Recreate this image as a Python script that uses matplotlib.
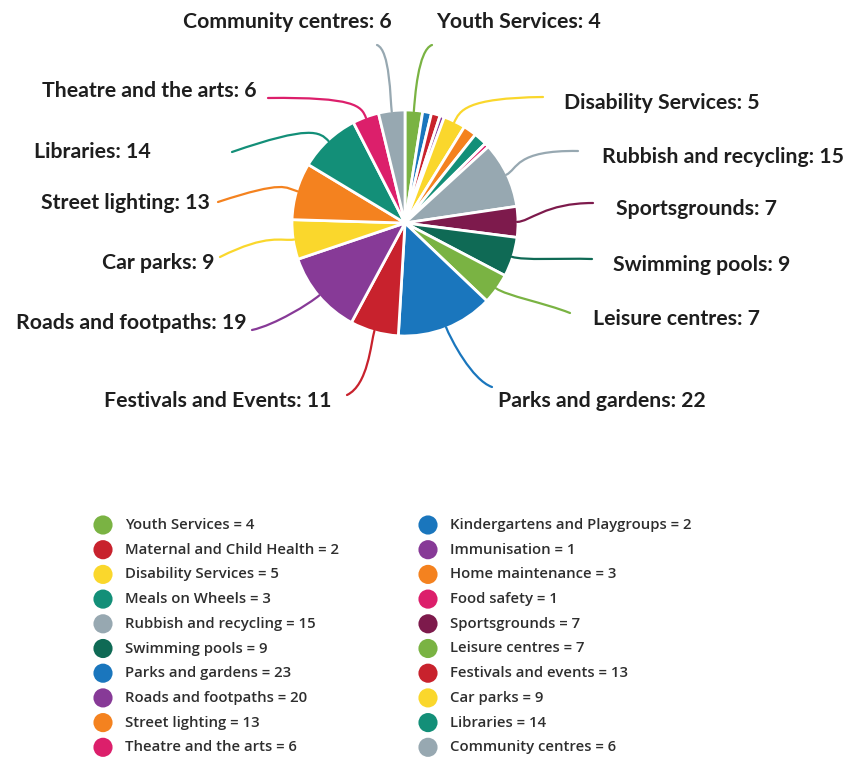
import matplotlib
matplotlib.use('Agg')
import matplotlib.pyplot as plt
import numpy as np
from matplotlib.path import Path
from matplotlib.patches import PathPatch

# slices clockwise from 12 o'clock
slice_names = ['Youth Services', 'Kindergartens and Playgroups', 'Maternal and Child Health',
               'Immunisation', 'Disability Services', 'Home maintenance', 'Meals on Wheels',
               'Food safety', 'Rubbish and recycling', 'Sportsgrounds', 'Swimming pools',
               'Leisure centres', 'Parks and gardens', 'Festivals and Events',
               'Roads and footpaths', 'Car parks', 'Street lighting', 'Libraries',
               'Theatre and the arts', 'Community centres']
slice_values = [4, 2, 2, 1, 5, 3, 3, 1, 15, 7, 9, 7, 22, 11, 19, 9, 13, 14, 6, 6]

GREEN = '#7ab343'
RED = '#c8222d'
YELLOW = '#fad72c'
TEAL = '#138f78'
GREY = '#97a8b1'
DKTEAL = '#0f6a55'
BLUE = '#1a76bd'
PURPLE = '#873a97'
ORANGE = '#f4821f'
PINK = '#dc1f6b'
MAROON = '#7d1a4c'

slice_colors = [GREEN, BLUE, RED, PURPLE, YELLOW, ORANGE, TEAL, PINK, GREY, MAROON,
                DKTEAL, GREEN, BLUE, RED, PURPLE, YELLOW, ORANGE, TEAL, PINK, GREY]

# legend (two columns)
legend_left = ['Youth Services', 'Maternal and Child Health', 'Disability Services',
               'Meals on Wheels', 'Rubbish and recycling', 'Swimming pools',
               'Parks and gardens', 'Roads and footpaths', 'Street lighting',
               'Theatre and the arts']
legend_left_values = [4, 2, 5, 3, 15, 9, 23, 20, 13, 6]
legend_left_colors = [GREEN, RED, YELLOW, TEAL, GREY, DKTEAL, BLUE, PURPLE, ORANGE, PINK]
legend_right = ['Kindergartens and Playgroups', 'Immunisation', 'Home maintenance',
                'Food safety', 'Sportsgrounds', 'Leisure centres', 'Festivals and events',
                'Car parks', 'Libraries', 'Community centres']
legend_right_values = [2, 1, 3, 1, 7, 7, 13, 9, 14, 6]
legend_right_colors = [BLUE, PURPLE, ORANGE, PINK, MAROON, GREEN, RED, YELLOW, TEAL, GREY]

W, H = 848, 760
CX, CY, R = 405, 223, 113


def Y(y):
    return H - y


# label layout: text x, text y, alignment, control point, line end (pixels)
label_layout = {
    'Youth Services': (436, 22, 'left', (418, 50), (432, 45)),
    'Disability Services': (564, 103, 'left', (465, 98), (543, 97)),
    'Rubbish and recycling': (602, 157, 'left', (515, 150), (578, 151)),
    'Sportsgrounds': (616, 209, 'left', (545, 203), (593, 203)),
    'Swimming pools': (613, 265, 'left', (560, 258), (592, 259)),
    'Leisure centres': (593, 319, 'left', (545, 303), (570, 313)),
    'Parks and gardens': (498, 401, 'left', (472, 380), (492, 387)),
    'Festivals and Events': (332, 401, 'right', (368, 385), (347, 395)),
    'Roads and footpaths': (247, 323, 'right', (275, 325), (252, 330)),
    'Car parks': (215, 263, 'right', (268, 233), (220, 257)),
    'Street lighting': (210, 203, 'right', (285, 180), (218, 202)),
    'Libraries': (151, 152, 'right', (310, 125), (232, 152)),
    'Theatre and the arts': (257, 91, 'right', (355, 97), (268, 98)),
    'Community centres': (392, 22, 'right', (390, 50), (377, 45)),
}

fig = plt.figure(figsize=(W / 100, H / 100), dpi=100)
ax = fig.add_axes([0, 0, 1, 1])

wedges, _ = ax.pie(slice_values, colors=slice_colors, startangle=90, counterclock=False,
                   center=(CX, Y(CY)), radius=R,
                   wedgeprops=dict(edgecolor='white', linewidth=2))

for w, name, val, col in zip(wedges, slice_names, slice_values, slice_colors):
    if name not in label_layout:
        continue
    tx, ty, ha, ctrl, end = label_layout[name]
    mid = np.deg2rad((w.theta1 + w.theta2) / 2)
    d = np.array([np.cos(mid), np.sin(mid)])
    p0 = np.array([CX, Y(CY)]) + d * (R - 1)
    p1 = np.array([CX, Y(CY)]) + d * (R + 12)
    p2 = (ctrl[0], Y(ctrl[1]))
    p3 = (end[0], Y(end[1]))
    path = Path([p0, p1, p2, p3], [Path.MOVETO, Path.CURVE4, Path.CURVE4, Path.CURVE4])
    ax.add_patch(PathPatch(path, fill=False, edgecolor=col, lw=1.6, capstyle='round'))
    ax.text(tx, Y(ty), f'{name}: {val}', ha=ha, va='center', fontsize=15.3,
            fontweight='bold', family='Lato', color='#1e1e1e')

# legend
row0, dy = 525, 24.7
for col_x, names, vals, cols in [(103, legend_left, legend_left_values, legend_left_colors),
                                 (428, legend_right, legend_right_values, legend_right_colors)]:
    ys = [Y(row0 + i * dy) for i in range(len(names))]
    ax.scatter([col_x] * len(names), ys, s=190, c=cols, linewidths=0)
    for yy, n, v in zip(ys, names, vals):
        ax.text(col_x + 22, yy, f'{n} = {v}', ha='left', va='center', fontsize=10.7,
                family='Open Sans', fontweight='semibold', color='#2e2e2e')

ax.set_xlim(0, W)
ax.set_ylim(0, H)
ax.set_aspect('equal')
ax.axis('off')
fig.savefig('out.png', dpi=100, facecolor='white')
